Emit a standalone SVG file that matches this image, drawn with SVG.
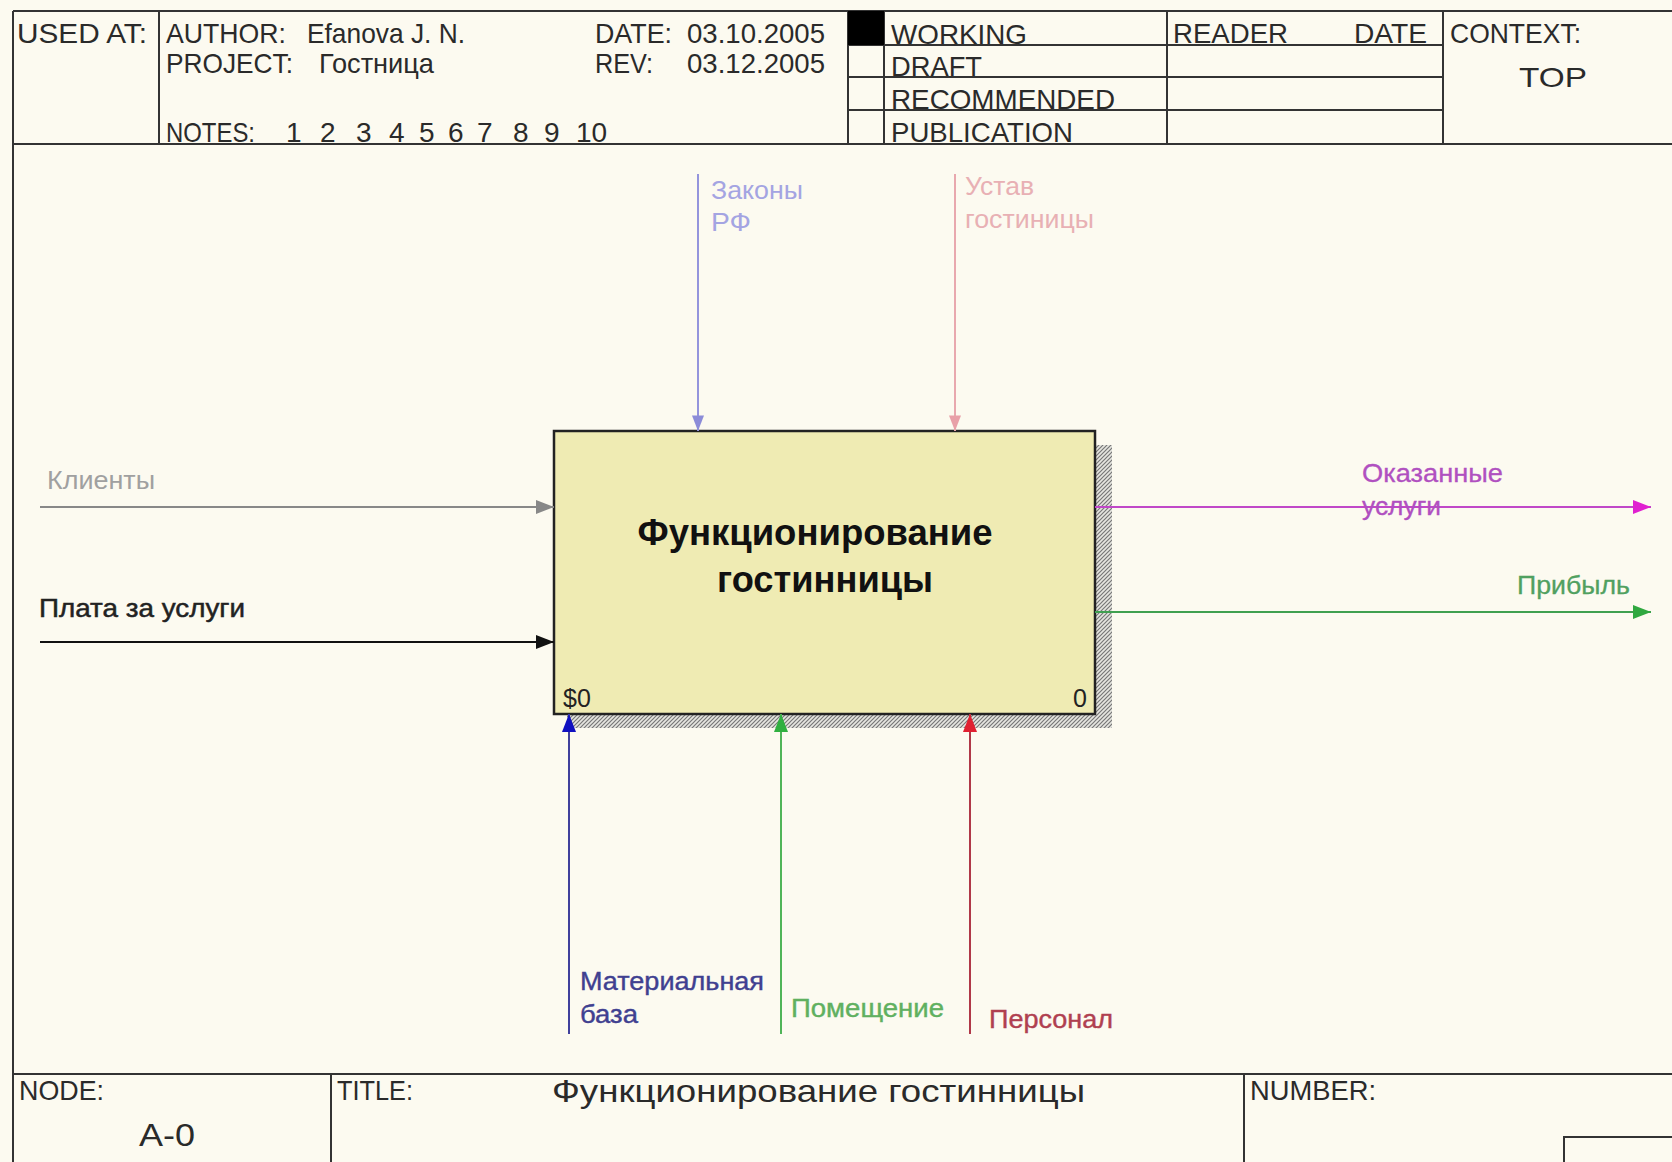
<svg xmlns="http://www.w3.org/2000/svg" width="1672" height="1162" viewBox="0 0 1672 1162">
<defs>
<style>
text{font-family:"Liberation Sans",Arial,sans-serif;}
.hd{font-size:28px;fill:#2a2a2a;}
.frame{stroke:#333;stroke-width:2;fill:none;}
.lbl{font-size:26px;}
.conn{fill:none;stroke-width:2;}
</style>
<pattern id="hatch" width="4" height="4" patternUnits="userSpaceOnUse">
<rect width="4" height="4" fill="#e6e6e0"/>
<path d="M0,4 L4,0 M-1,1 L1,-1 M3,5 L5,3" stroke="#777" stroke-width="1.2"/>
</pattern>
<marker id="mGray" markerUnits="userSpaceOnUse" markerWidth="18" markerHeight="14" viewBox="0 0 18 14" refX="18" refY="7" orient="auto"><path d="M0,0 L18,7 L0,14 z" fill="#888"/></marker>
<marker id="mBlack" markerUnits="userSpaceOnUse" markerWidth="18" markerHeight="14" viewBox="0 0 18 14" refX="18" refY="7" orient="auto"><path d="M0,0 L18,7 L0,14 z" fill="#111"/></marker>
<marker id="mLav" markerUnits="userSpaceOnUse" markerWidth="16" markerHeight="12" viewBox="0 0 18 14" refX="18" refY="7" orient="auto"><path d="M0,0 L18,7 L0,14 z" fill="#8c8cd8"/></marker>
<marker id="mPink" markerUnits="userSpaceOnUse" markerWidth="16" markerHeight="12" viewBox="0 0 18 14" refX="18" refY="7" orient="auto"><path d="M0,0 L18,7 L0,14 z" fill="#e8a0a8"/></marker>
<marker id="mMag" markerUnits="userSpaceOnUse" markerWidth="18" markerHeight="14" viewBox="0 0 18 14" refX="18" refY="7" orient="auto"><path d="M0,0 L18,7 L0,14 z" fill="#e020d0"/></marker>
<marker id="mGreen" markerUnits="userSpaceOnUse" markerWidth="18" markerHeight="14" viewBox="0 0 18 14" refX="18" refY="7" orient="auto"><path d="M0,0 L18,7 L0,14 z" fill="#30a840"/></marker>
<marker id="mBlue" markerUnits="userSpaceOnUse" markerWidth="18" markerHeight="14" viewBox="0 0 18 14" refX="18" refY="7" orient="auto"><path d="M0,0 L18,7 L0,14 z" fill="#1010c0"/></marker>
<marker id="mGreen2" markerUnits="userSpaceOnUse" markerWidth="18" markerHeight="14" viewBox="0 0 18 14" refX="18" refY="7" orient="auto"><path d="M0,0 L18,7 L0,14 z" fill="#30b040"/></marker>
<marker id="mRed" markerUnits="userSpaceOnUse" markerWidth="18" markerHeight="14" viewBox="0 0 18 14" refX="18" refY="7" orient="auto"><path d="M0,0 L18,7 L0,14 z" fill="#e02030"/></marker>
</defs>
<rect x="0" y="0" width="1672" height="1162" fill="#fcfaf0"/>

<g id="frame">
<path class="frame" d="M13,11 H1672 M13,11 V1162 M13,144 H1672 M159,11 V144 M848,11 V144 M884,11 V144 M1167,11 V144 M1443,11 V144 M848,45 H1443 M848,77 H1443 M848,110 H1443 M13,1074 H1672 M331,1074 V1162 M1244,1074 V1162"/>
<rect x="848" y="11" width="36" height="34" fill="#000"/>
<rect x="1564" y="1137" width="120" height="40" fill="none" stroke="#333" stroke-width="2"/>
</g>

<g id="header">
<text class="hd" x="17" y="43" textLength="130" lengthAdjust="spacingAndGlyphs">USED AT:</text>
<text class="hd" x="166" y="43" textLength="120" lengthAdjust="spacingAndGlyphs">AUTHOR:</text>
<text class="hd" x="307" y="43" textLength="158" lengthAdjust="spacingAndGlyphs">Efanova J. N.</text>
<text class="hd" x="166" y="73" textLength="127" lengthAdjust="spacingAndGlyphs">PROJECT:</text>
<text class="hd" x="319" y="73" textLength="115" lengthAdjust="spacingAndGlyphs">Гостница</text>
<text class="hd" x="166" y="142" textLength="89" lengthAdjust="spacingAndGlyphs">NOTES:</text>
<text class="hd" y="142"><tspan x="286">1</tspan><tspan x="320">2</tspan><tspan x="356">3</tspan><tspan x="389">4</tspan><tspan x="419">5</tspan><tspan x="448">6</tspan><tspan x="477">7</tspan><tspan x="513">8</tspan><tspan x="544">9</tspan><tspan x="576">10</tspan></text>
<text class="hd" x="595" y="43" textLength="77" lengthAdjust="spacingAndGlyphs">DATE:</text>
<text class="hd" x="687" y="43" textLength="138" lengthAdjust="spacingAndGlyphs">03.10.2005</text>
<text class="hd" x="595" y="73" textLength="58" lengthAdjust="spacingAndGlyphs">REV:</text>
<text class="hd" x="687" y="73" textLength="138" lengthAdjust="spacingAndGlyphs">03.12.2005</text>
<text class="hd" x="891" y="44" textLength="136" lengthAdjust="spacingAndGlyphs">WORKING</text>
<text class="hd" x="891" y="76" textLength="91" lengthAdjust="spacingAndGlyphs">DRAFT</text>
<text class="hd" x="891" y="109" textLength="224" lengthAdjust="spacingAndGlyphs">RECOMMENDED</text>
<text class="hd" x="891" y="142" textLength="182" lengthAdjust="spacingAndGlyphs">PUBLICATION</text>
<text class="hd" x="1173" y="43" textLength="115" lengthAdjust="spacingAndGlyphs">READER</text>
<text class="hd" x="1354" y="43" textLength="73" lengthAdjust="spacingAndGlyphs">DATE</text>
<text class="hd" x="1450" y="43" textLength="131" lengthAdjust="spacingAndGlyphs">CONTEXT:</text>
<text class="hd" x="1519" y="87" font-size="34" textLength="68" lengthAdjust="spacingAndGlyphs">TOP</text>
</g>

<g id="footer">
<text class="hd" x="19" y="1100" textLength="85" lengthAdjust="spacingAndGlyphs">NODE:</text>
<text class="hd" x="139" y="1146" style="font-size:32px" textLength="56" lengthAdjust="spacingAndGlyphs">A-0</text>
<text class="hd" x="337" y="1100" textLength="76" lengthAdjust="spacingAndGlyphs">TITLE:</text>
<text class="hd" x="552" y="1102" style="font-size:32px" textLength="533" lengthAdjust="spacingAndGlyphs">Функционирование  гостинницы</text>
<text class="hd" x="1250" y="1100" textLength="126" lengthAdjust="spacingAndGlyphs">NUMBER:</text>
</g>

<g id="node-A0">
<rect x="1095" y="445" width="17" height="283" fill="url(#hatch)"/>
<rect x="567" y="714" width="545" height="14" fill="url(#hatch)"/>
<rect x="554" y="431" width="541" height="283" fill="#efebb3" stroke="#222" stroke-width="2.5"/>
<text x="815" y="545" text-anchor="middle" font-size="36" font-weight="bold" fill="#111" textLength="355" lengthAdjust="spacingAndGlyphs">Функционирование</text>
<text x="825" y="592" text-anchor="middle" font-size="36" font-weight="bold" fill="#111" textLength="216" lengthAdjust="spacingAndGlyphs">гостинницы</text>
<text x="563" y="707" font-size="25" fill="#222">$0</text>
<text x="1073" y="707" font-size="25" fill="#222">0</text>
</g>

<g id="connectors">
<path class="conn" d="M698,174 V431" stroke="#9494dc" marker-end="url(#mLav)"/>
<path class="conn" d="M955,174 V431" stroke="#e8a8ae" marker-end="url(#mPink)"/>
<path class="conn" d="M40,507 H554" stroke="#888" marker-end="url(#mGray)"/>
<path class="conn" d="M40,642 H554" stroke="#111" marker-end="url(#mBlack)"/>
<path class="conn" d="M1095,507 H1651" stroke="#c048c8" marker-end="url(#mMag)"/>
<path class="conn" d="M1095,612 H1651" stroke="#40a050" marker-end="url(#mGreen)"/>
<path class="conn" d="M569,1034 V714" stroke="#40409c" marker-end="url(#mBlue)"/>
<path class="conn" d="M781,1034 V714" stroke="#50b458" marker-end="url(#mGreen2)"/>
<path class="conn" d="M970,1034 V714" stroke="#b03848" marker-end="url(#mRed)"/>
</g>

<g id="labels">
<text class="lbl" x="711" y="199" fill="#a4a4e2" textLength="92" lengthAdjust="spacingAndGlyphs">Законы</text>
<text class="lbl" x="711" y="231" fill="#a4a4e2" textLength="40" lengthAdjust="spacingAndGlyphs">РФ</text>
<text class="lbl" x="965" y="195" fill="#e8b0b4" textLength="69" lengthAdjust="spacingAndGlyphs">Устав</text>
<text class="lbl" x="965" y="228" fill="#e8b0b4" textLength="129" lengthAdjust="spacingAndGlyphs">гостиницы</text>
<text class="lbl" x="47" y="489" fill="#a0a0a0" textLength="108" lengthAdjust="spacingAndGlyphs">Клиенты</text>
<text class="lbl" x="39" y="617" fill="#222" stroke="#222" stroke-width="0.5" textLength="206" lengthAdjust="spacingAndGlyphs">Плата за услуги</text>
<text class="lbl" x="1362" y="482" fill="#b050c0" stroke="#b050c0" stroke-width="0.3" textLength="141" lengthAdjust="spacingAndGlyphs">Оказанные</text>
<text class="lbl" x="1362" y="515" fill="#b050c0" stroke="#b050c0" stroke-width="0.3" textLength="79" lengthAdjust="spacingAndGlyphs">услуги</text>
<text class="lbl" x="1517" y="594" fill="#50a060" stroke="#50a060" stroke-width="0.3" textLength="113" lengthAdjust="spacingAndGlyphs">Прибыль</text>
<text class="lbl" x="580" y="990" fill="#404090" stroke="#404090" stroke-width="0.4" textLength="184" lengthAdjust="spacingAndGlyphs">Материальная</text>
<text class="lbl" x="580" y="1023" fill="#404090" stroke="#404090" stroke-width="0.4" textLength="58" lengthAdjust="spacingAndGlyphs">база</text>
<text class="lbl" x="791" y="1017" fill="#60b060" stroke="#60b060" stroke-width="0.4" textLength="153" lengthAdjust="spacingAndGlyphs">Помещение</text>
<text class="lbl" x="989" y="1028" fill="#b04050" stroke="#b04050" stroke-width="0.4" textLength="124" lengthAdjust="spacingAndGlyphs">Персонал</text>
</g>
</svg>
